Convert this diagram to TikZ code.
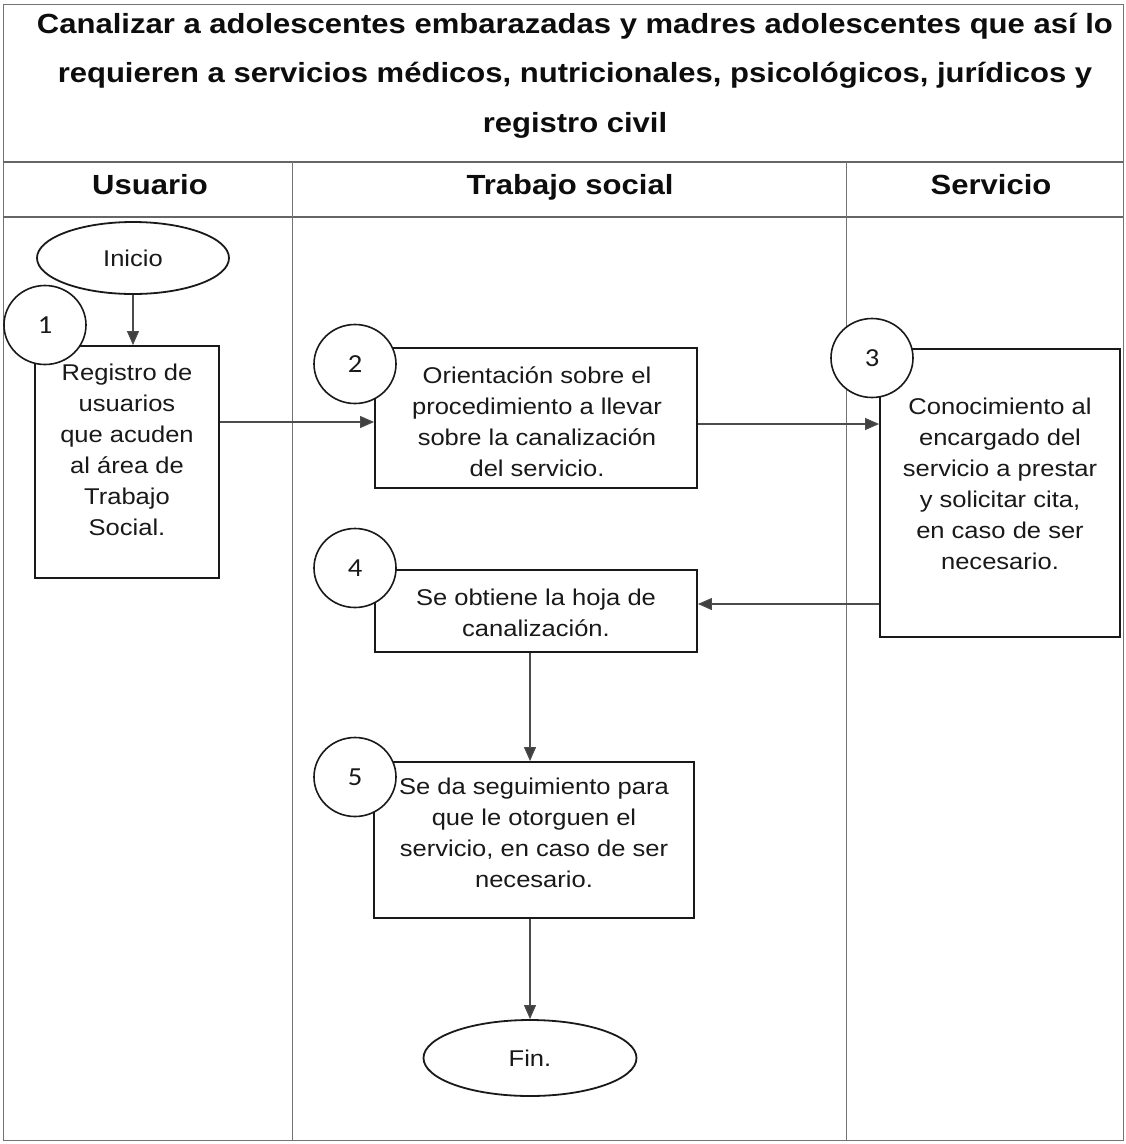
\documentclass[tikz,border=0pt]{standalone}
\usepackage{fontspec}
\setmainfont{Liberation Sans}[FakeStretch=1.12]
\newfontfamily\numfont{Carlito}[FakeStretch=1.1]
\usetikzlibrary{shapes.geometric,arrows.meta}

% invisible 1em strut: fixes the top of every text block
\newcommand\tstrut{\rule{0pt}{1em}}
\newcommand\bodyfont{\fontsize{22.8}{31}\selectfont}
\newcommand\titlefont{\bfseries\fontsize{27.7}{49.5}\selectfont}

\tikzset{
  frame/.style   = {draw=black!55, line width=1pt},
  rowline/.style = {draw=black!60, line width=1.6pt},
  laneline/.style= {draw=black!55, line width=1pt},
  stepbox/.style = {draw=black!90, line width=1.8pt, fill=white, rectangle, inner sep=0pt},
  numcirc/.style = {ellipse, draw=black!90, line width=1.6pt, fill=white, inner sep=0pt,
                    minimum width=82pt, minimum height=79pt,
                    font=\numfont\fontsize{26}{26}\selectfont, text=black!90},
  terminal/.style= {ellipse, draw=black!90, line width=1.8pt, fill=white, inner sep=0pt,
                    font=\bodyfont, text=black!90},
  body/.style    = {align=center, anchor=north, inner sep=0pt, font=\bodyfont, text=black!90},
  heading/.style = {anchor=base, inner sep=0pt, font=\titlefont, text=black!95},
  flow/.style    = {draw=black!70, line width=1.1pt,
                    -{Triangle[length=14pt,width=12pt,fill=black!75]}},
}

\begin{document}
\begin{tikzpicture}[x=1pt,y=-1pt]
\useasboundingbox (0,0) rectangle (1126,1144);

% table frame, title row, header row and swim lanes
\draw[frame] (3,4) rectangle (1123,1140);
\draw[rowline] (3,162) -- (1123,162);
\draw[rowline] (3,217) -- (1123,217);
\draw[laneline] (292,162) -- (292,1140);
\draw[laneline] (846,162) -- (846,1140);

% title and lane headings
\node[align=center, anchor=north, inner sep=0pt, font=\titlefont, text=black!95] (title) at (575,5.3)
  {\tstrut Canalizar a adolescentes embarazadas y madres adolescentes que así lo\\
   requieren a servicios médicos, nutricionales, psicológicos, jurídicos y\\
   registro civil};
\node[heading] (hUsuario)  at (150,194) {Usuario};
\node[heading] (hTrabajo)  at (570,194) {Trabajo social};
\node[heading] (hServicio) at (991,194) {Servicio};

% start and end terminals
\node[terminal, minimum width=192pt, minimum height=72pt] (inicio) at (133,258) {Inicio};
\node[terminal, minimum width=213pt, minimum height=76pt] (fin) at (530,1058) {Fin.};

% process boxes
\node[stepbox, minimum width=184pt, minimum height=232pt] (b1) at (127,462) {};
\node[stepbox, minimum width=322pt, minimum height=140pt] (b2) at (536,418) {};
\node[stepbox, minimum width=240pt, minimum height=288pt] (b3) at (1000,493) {};
\node[stepbox, minimum width=322pt, minimum height=82pt]  (b4) at (536,611) {};
\node[stepbox, minimum width=320pt, minimum height=156pt] (b5) at (534,840) {};

% box texts
\node[body] (t1) at (127,357.2) {\tstrut Registro de\\usuarios\\que acuden\\al área de\\Trabajo\\Social.};
\node[body] (t2) at (537,360.2) {\tstrut Orientación sobre el\\procedimiento a llevar\\sobre la canalización\\del servicio.};
\node[body] (t3) at (1000,391.2) {\tstrut Conocimiento al\\encargado del\\servicio a prestar\\y solicitar cita,\\en caso de ser\\necesario.};
\node[body] (t4) at (536,582.2) {\tstrut Se obtiene la hoja de\\canalización.};
\node[body] (t5) at (534,771.2) {\tstrut Se da seguimiento para\\que le otorguen el\\servicio, en caso de ser\\necesario.};

% connectors
\draw[flow] (inicio.south) -- (inicio.south |- b1.north);
\draw[flow] ([yshift=-4pt]b2.west -| b1.east) -- ([yshift=-4pt]b2.west);
\draw[flow] ([yshift=-6pt]b2.east) -- ([yshift=-6pt]b2.east -| b3.west);
\draw[flow] ([yshift=7pt]b4.east -| b3.west) -- ([yshift=7pt]b4.east);
\draw[flow] ([xshift=-6pt]b4.south) -- ([xshift=-6pt]b4.south |- b5.north);
\draw[flow] (b5.south -| fin.north) -- (fin.north);

% step numbers
\node[numcirc] (n1) at (45,325) {1};
\node[numcirc] (n2) at (355,364) {2};
\node[numcirc] (n3) at (872,358) {3};
\node[numcirc] (n4) at (355,568) {4};
\node[numcirc] (n5) at (355,777) {5};
\end{tikzpicture}
\end{document}
